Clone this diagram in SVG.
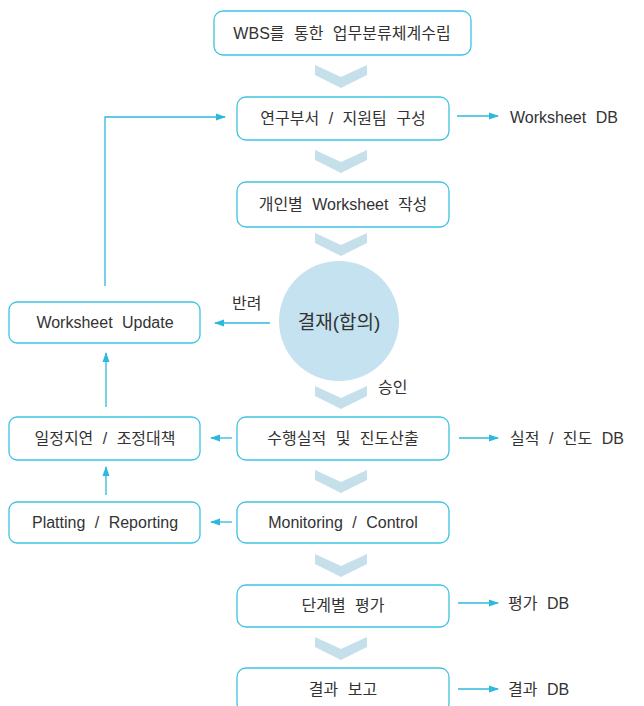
<svg xmlns="http://www.w3.org/2000/svg" width="644" height="706" viewBox="0 0 644 706">
<style>
.box{fill:#fff;stroke:#3ec3e2;stroke-width:1.3}
.t{font-family:"Liberation Sans","Noto Sans CJK KR",sans-serif;font-size:16px;fill:#333;dominant-baseline:central;word-spacing:5px}
.m{text-anchor:middle}
.chev{fill:#c5dfeb}
.ln{stroke:#2eb8dc;stroke-width:1.3;fill:none}
</style>
<defs>
<marker id="ah" markerWidth="10" markerHeight="8" refX="9" refY="4" orient="auto" markerUnits="userSpaceOnUse">
<path d="M0,0.5 L10,4 L0,7.5 Z" fill="#2eb8dc"/>
</marker>
<path id="ch" d="M-26,0 L0,12 L26,0 L26,10 L0,23 L-26,10 Z"/>
</defs>
<rect width="644" height="706" fill="#fff"/>
<g id="chevrons" class="chev">
<use href="#ch" x="341" y="65"/>
<use href="#ch" x="341" y="150"/>
<use href="#ch" x="341" y="233"/>
<use href="#ch" x="341" y="386"/>
<use href="#ch" x="341" y="470"/>
<use href="#ch" x="341" y="554"/>
<use href="#ch" x="341" y="637"/>
</g>
<g id="n1"><rect class="box" x="214" y="11" width="257" height="44" rx="9"/><text class="t m" x="342" y="33">WBS를 통한 업무분류체계수립</text></g>
<g id="n2"><rect class="box" x="237" y="97" width="212" height="43" rx="9"/><text class="t m" x="343" y="118">연구부서 / 지원팀 구성</text></g>
<g id="n3"><rect class="box" x="237" y="182" width="212" height="45" rx="9"/><text class="t m" x="343" y="204">개인별 Worksheet 작성</text></g>
<g id="n4"><circle cx="339" cy="321" r="60" fill="#c4e2f0"/><text class="t m" x="339" y="322" style="font-size:19px">결재(합의)</text></g>
<g id="n5"><rect class="box" x="9" y="302" width="191" height="41" rx="8"/><text class="t m" x="105" y="322">Worksheet Update</text></g>
<g id="n6"><rect class="box" x="237" y="417" width="212" height="43" rx="9"/><text class="t m" x="343" y="438">수행실적 및 진도산출</text></g>
<g id="n7"><rect class="box" x="9" y="417" width="191" height="43" rx="8"/><text class="t m" x="105" y="438">일정지연 / 조정대책</text></g>
<g id="n8"><rect class="box" x="237" y="502" width="212" height="41" rx="9"/><text class="t m" x="343" y="522">Monitoring / Control</text></g>
<g id="n9"><rect class="box" x="9" y="502" width="191" height="41" rx="8"/><text class="t m" x="105" y="522">Platting / Reporting</text></g>
<g id="n10"><rect class="box" x="237" y="585" width="212" height="42" rx="9"/><text class="t m" x="343" y="605">단계별 평가</text></g>
<g id="n11"><rect class="box" x="237" y="668" width="212" height="44" rx="9"/><text class="t m" x="343" y="689">결과 보고</text></g>
<g id="outputs">
<text class="t" x="510" y="117">Worksheet DB</text>
<text class="t" x="510" y="438">실적 / 진도 DB</text>
<text class="t" x="508" y="603">평가 DB</text>
<text class="t" x="508" y="689">결과 DB</text>
<text class="t" x="232" y="303">반려</text>
<text class="t" x="378" y="387">승인</text>
</g>
<g id="connectors" class="ln">
<path d="M105,286 V117 H225" marker-end="url(#ah)"/>
<path d="M457,116 H498" marker-end="url(#ah)"/>
<path d="M270,323 H215" marker-end="url(#ah)"/>
<path d="M106,407 V353" marker-end="url(#ah)"/>
<path d="M232,438 H211" marker-end="url(#ah)"/>
<path d="M459,438 H498" marker-end="url(#ah)"/>
<path d="M106,495 V467" marker-end="url(#ah)"/>
<path d="M232,522 H211" marker-end="url(#ah)"/>
<path d="M458,603 H498" marker-end="url(#ah)"/>
<path d="M458,689 H498" marker-end="url(#ah)"/>
</g>
</svg>
